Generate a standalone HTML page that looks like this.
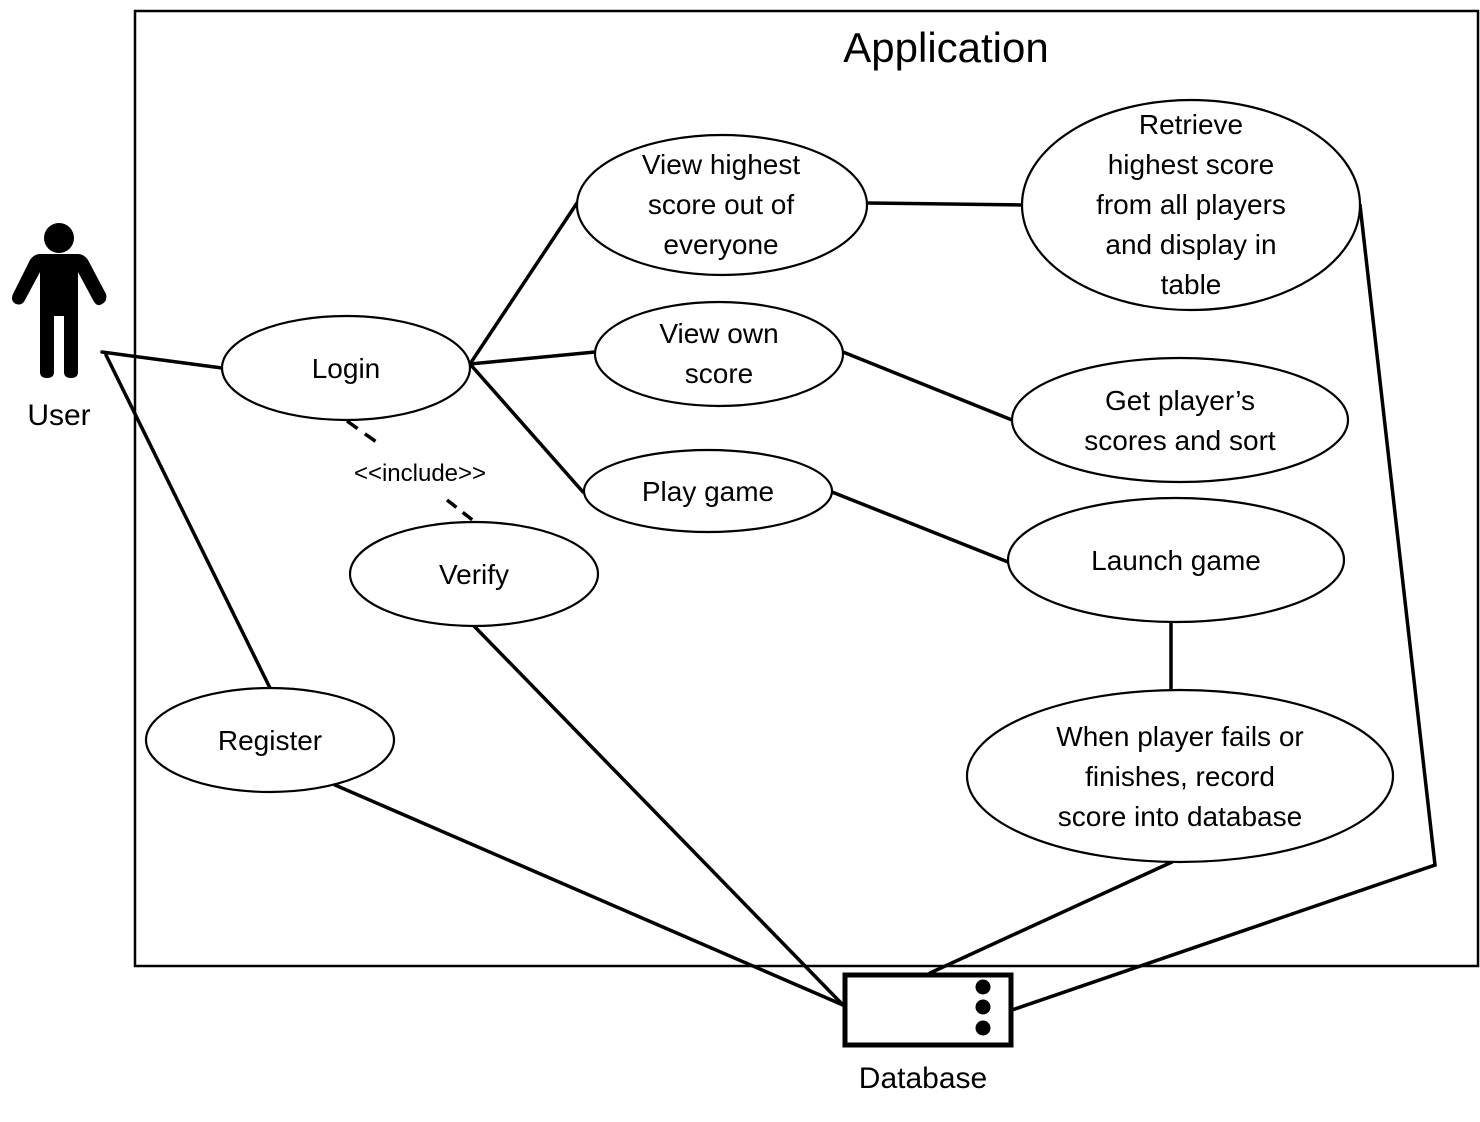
<!DOCTYPE html>
<html><head><meta charset="utf-8"><style>
html,body{margin:0;padding:0;background:#fff;}
svg{display:block;}
text{font-family:"Liberation Sans","DejaVu Sans",sans-serif;fill:#000;}
</style></head><body>
<svg width="1480" height="1122" viewBox="0 0 1480 1122" xmlns="http://www.w3.org/2000/svg">
<rect x="135" y="11" width="1343" height="955" fill="none" stroke="#000" stroke-width="2.5"/>
<text x="946" y="62" font-size="42" text-anchor="middle">Application</text>

<!-- actor -->
<circle cx="59" cy="238" r="15" fill="#000"/>
<path d="M40,254 L78,254 Q84,254 88,260 L106,294 Q108,302 100,305 Q96,306 93,300 L78,272 L78,372 Q78,378 71,378 Q64,378 64,372 L64,316 L54,316 L54,372 Q54,378 47,378 Q40,378 40,372 L40,272 L25,300 Q22,306 16,304 Q10,301 13,294 L30,260 Q34,254 40,254 Z" fill="#000"/>
<text x="59" y="425" font-size="30" text-anchor="middle">User</text>

<g stroke="#000" stroke-width="3.5" fill="none" stroke-linecap="round">
<line x1="102" y1="352" x2="222" y2="368"/>
<line x1="106" y1="355" x2="270" y2="688"/>
<line x1="470" y1="364" x2="577" y2="203"/>
<line x1="470" y1="364" x2="595" y2="352"/>
<line x1="470" y1="364" x2="583" y2="492"/>
<line x1="867" y1="203" x2="1022" y2="205"/>
<line x1="843" y1="352" x2="1012" y2="420"/>
<line x1="832" y1="492" x2="1008" y2="562"/>
<line x1="1171" y1="622" x2="1171" y2="690"/>
<line x1="1172" y1="862" x2="930" y2="973"/>
<polyline points="1360,205 1435,865 1012,1010"/>
<line x1="335" y1="785" x2="843" y2="1005"/>
<line x1="474" y1="626" x2="843" y2="1005"/>
<line x1="347" y1="421" x2="382" y2="446" stroke-dasharray="13,9" stroke-linecap="butt"/>
<line x1="447" y1="500" x2="475" y2="522" stroke-dasharray="12,8" stroke-linecap="butt"/>
</g>
<text x="420" y="481" font-size="24" text-anchor="middle">&lt;&lt;include&gt;&gt;</text>

<g stroke="#000" stroke-width="2.2" fill="#fff">
<ellipse cx="722" cy="205" rx="145" ry="70"/>
<ellipse cx="1191" cy="205" rx="169" ry="105"/>
<ellipse cx="346" cy="368" rx="124" ry="52"/>
<ellipse cx="719" cy="354" rx="124" ry="52"/>
<ellipse cx="1180" cy="420" rx="168" ry="62"/>
<ellipse cx="708" cy="491" rx="124" ry="41"/>
<ellipse cx="1176" cy="560" rx="168" ry="62"/>
<ellipse cx="474" cy="574" rx="124" ry="52"/>
<ellipse cx="270" cy="740" rx="124" ry="52"/>
<ellipse cx="1180" cy="776" rx="213" ry="86"/>
</g>

<g font-size="28" text-anchor="middle">
<text x="721" y="174">View highest</text>
<text x="721" y="214">score out of</text>
<text x="721" y="254">everyone</text>
<text x="1191" y="134">Retrieve</text>
<text x="1191" y="174">highest score</text>
<text x="1191" y="214">from all players</text>
<text x="1191" y="254">and display in</text>
<text x="1191" y="294">table</text>
<text x="346" y="378">Login</text>
<text x="719" y="343">View own</text>
<text x="719" y="383">score</text>
<text x="1180" y="410">Get player’s</text>
<text x="1180" y="450">scores and sort</text>
<text x="708" y="501">Play game</text>
<text x="1176" y="570">Launch game</text>
<text x="474" y="584">Verify</text>
<text x="270" y="750">Register</text>
<text x="1180" y="746">When player fails or</text>
<text x="1180" y="786">finishes, record</text>
<text x="1180" y="826">score into database</text>
</g>

<rect x="845" y="975" width="166" height="70" fill="#fff" stroke="#000" stroke-width="5"/>
<circle cx="983" cy="987" r="7.5" fill="#000"/>
<circle cx="983" cy="1007" r="7.5" fill="#000"/>
<circle cx="983" cy="1028" r="7.5" fill="#000"/>
<text x="923" y="1088" font-size="30" text-anchor="middle">Database</text>
</svg>
</body></html>
